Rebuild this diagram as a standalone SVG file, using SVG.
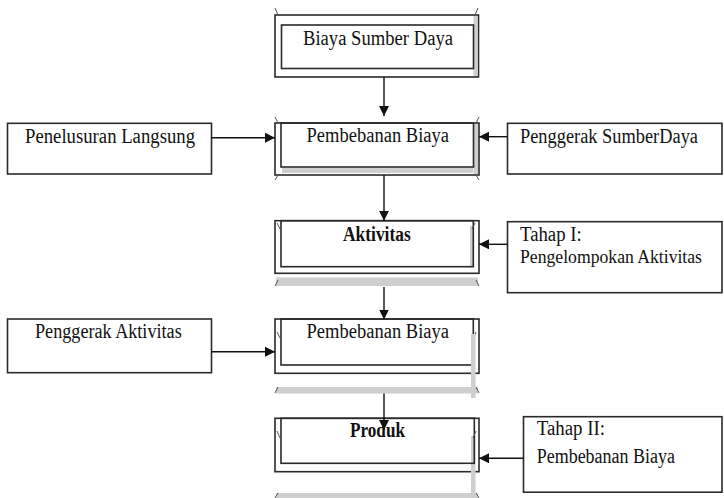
<svg xmlns="http://www.w3.org/2000/svg" width="724" height="498" viewBox="0 0 724 498">
  <style>
    .lbl { font-family: "Liberation Serif", "Times New Roman", serif; font-size: 20.5px; fill: #111; }
    .bold { font-weight: bold; }
    .tight { font-size: 19px; }
    .box { fill: #fff; stroke: #2a2a2a; stroke-width: 1.6; }
    .frame { fill: none; stroke: #2a2a2a; stroke-width: 1.6; }
    .shade { fill: #cfcfcf; stroke: none; }
    .tick { stroke: #555; stroke-width: 1; fill: none; }
    .wire { stroke: #111; stroke-width: 1.4; fill: none; }
  </style>
  <defs>
    <marker id="arrow" viewBox="0 0 10 10" refX="10" refY="5" markerWidth="10" markerHeight="10" markerUnits="userSpaceOnUse" orient="auto">
      <path d="M0,0 L10,5 L0,10 Z" fill="#111"/>
    </marker>
  </defs>

  <rect width="724" height="498" fill="#fff"/>

  <!-- Framed process boxes (centre column) -->
  <g id="biaya-sumber-daya">
    <rect class="box" x="275" y="15" width="203.5" height="62"/>
    <rect class="shade" x="473.5" y="16" width="4" height="60"/>
    <rect class="frame" x="281.5" y="25" width="192" height="43.5"/>
    <path class="tick" d="M275,8 L278,15 M478,8 L475,15"/>
    <text class="lbl" x="303" y="45" textLength="150" lengthAdjust="spacingAndGlyphs">Biaya Sumber Daya</text>
  </g>

  <g id="pembebanan-biaya-1">
    <rect class="box" x="275" y="123" width="204" height="52"/>
    <rect class="shade" x="473.5" y="124" width="4.5" height="50"/>
    <rect class="shade" x="282" y="168" width="191" height="5"/>
    <rect class="frame" x="281" y="123" width="192.5" height="44"/>
    <path class="tick" d="M275,117 L278,123 M479,117 L476,123 M275,180 L278,175 M479,180 L476,175"/>
    <text class="lbl" x="306.5" y="141.5" textLength="142.5" lengthAdjust="spacingAndGlyphs">Pembebanan Biaya</text>
  </g>

  <g id="aktivitas">
    <rect class="box" x="275" y="220.7" width="204" height="52.6"/>
    <rect class="shade" x="470" y="226" width="3.3" height="40"/>
    <rect class="frame" x="281" y="220.7" width="192.3" height="46"/>
    <path class="tick" d="M277,223 L280,229 M475,223 L472,229"/>
    <rect class="shade" x="276" y="277.5" width="202" height="8.5"/>
    <path class="tick" d="M275,286 L278,280 M479,286 L476,280"/>
    <text class="lbl bold" x="343" y="240.7" textLength="67.7" lengthAdjust="spacingAndGlyphs">Aktivitas</text>
  </g>

  <g id="pembebanan-biaya-2">
    <rect class="box" x="275" y="319" width="204" height="54.3"/>
    <rect class="frame" x="281" y="319" width="192.3" height="46"/>
    <path class="tick" d="M277,332 L280,338 M476,332 L473,338"/>
    <rect class="shade" x="471" y="334" width="4.5" height="64"/>
    <rect class="shade" x="276" y="387" width="202" height="6.5"/>
    <path class="tick" d="M275,393 L278,387 M479,393 L476,387"/>
    <text class="lbl" x="306.5" y="338.3" textLength="142.5" lengthAdjust="spacingAndGlyphs">Pembebanan Biaya</text>
  </g>

  <g id="produk">
    <rect class="box" x="275" y="418.3" width="204" height="53.4"/>
    <rect class="shade" x="471" y="436" width="4.5" height="62"/>
    <rect class="frame" x="281" y="418.3" width="193.3" height="45"/>
    <path class="tick" d="M277,431 L280,438 M476,431 L473,438"/>
    <rect class="shade" x="276" y="493" width="202" height="5"/>
    <path class="tick" d="M275,498 L278,493 M479,498 L476,493"/>
    <text class="lbl bold" x="350" y="436.7" textLength="55" lengthAdjust="spacingAndGlyphs">Produk</text>
  </g>

  <!-- Side boxes -->
  <g id="penelusuran-langsung">
    <rect class="box" x="7.5" y="123.3" width="204" height="50.7"/>
    <text class="lbl" x="25" y="143.3" textLength="170" lengthAdjust="spacingAndGlyphs">Penelusuran Langsung</text>
  </g>

  <g id="penggerak-sumber-daya">
    <rect class="box" x="507.5" y="123.3" width="214.5" height="50.7"/>
    <text class="lbl" x="520" y="143.3" textLength="178" lengthAdjust="spacingAndGlyphs">Penggerak SumberDaya</text>
  </g>

  <g id="tahap-1">
    <rect class="box" x="507.5" y="221.7" width="214.5" height="71"/>
    <text class="lbl" x="520" y="240.7" textLength="61.7" lengthAdjust="spacingAndGlyphs">Tahap I:</text>
    <text class="lbl tight" x="520" y="263.3" textLength="182" lengthAdjust="spacingAndGlyphs">Pengelompokan Aktivitas</text>
  </g>

  <g id="penggerak-aktivitas">
    <rect class="box" x="7.5" y="319" width="204" height="53.7"/>
    <text class="lbl" x="35" y="338.3" textLength="146.7" lengthAdjust="spacingAndGlyphs">Penggerak Aktivitas</text>
  </g>

  <g id="tahap-2">
    <rect class="box" x="523.5" y="416.7" width="198.5" height="75.5"/>
    <text class="lbl" x="536.7" y="435" textLength="68.3" lengthAdjust="spacingAndGlyphs">Tahap II:</text>
    <text class="lbl" x="536.7" y="463.3" textLength="138.3" lengthAdjust="spacingAndGlyphs">Pembebanan Biaya</text>
  </g>

  <!-- Connectors -->
  <g id="connectors">
    <line class="wire" x1="384" y1="77" x2="384" y2="116" marker-end="url(#arrow)"/>
    <line class="wire" x1="384" y1="175" x2="384" y2="220.7" marker-end="url(#arrow)"/>
    <line class="wire" x1="384" y1="287" x2="384" y2="319.5" marker-end="url(#arrow)"/>
    <line class="wire" x1="384" y1="393.5" x2="384" y2="430" marker-end="url(#arrow)"/>
    <line class="wire" x1="211.5" y1="137.7" x2="275" y2="137.7" marker-end="url(#arrow)"/>
    <line class="wire" x1="507.5" y1="136.7" x2="479" y2="136.7" marker-end="url(#arrow)"/>
    <line class="wire" x1="507.5" y1="244.3" x2="479" y2="244.3" marker-end="url(#arrow)"/>
    <line class="wire" x1="211.5" y1="351.7" x2="275" y2="351.7" marker-end="url(#arrow)"/>
    <line class="wire" x1="523.5" y1="458.3" x2="479" y2="458.3" marker-end="url(#arrow)"/>
  </g>
</svg>
